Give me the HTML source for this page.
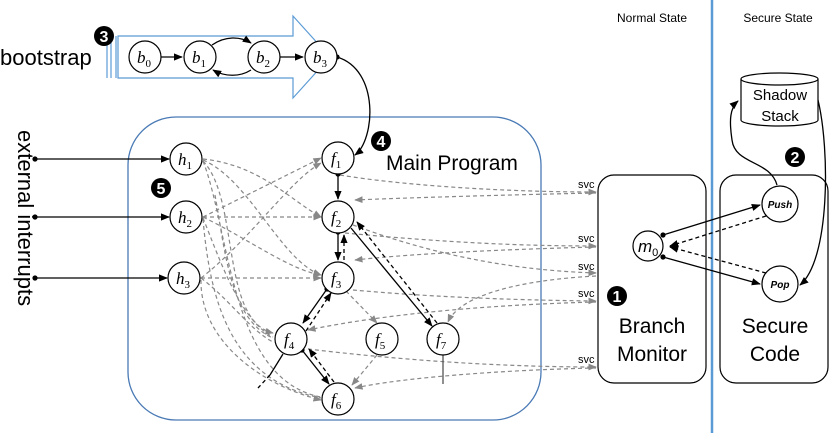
<!DOCTYPE html>
<html><head><meta charset="utf-8"><style>
body{margin:0;background:#fff}
svg{display:block;font-family:"Liberation Sans",sans-serif}
.n{fill:#fff;stroke:#000;stroke-width:1.2}
.g{fill:none;stroke:#888;stroke-width:1.2;stroke-dasharray:4 3}
.s{fill:none;stroke:#000;stroke-width:1.3}
.d{fill:none;stroke:#000;stroke-width:1.3;stroke-dasharray:4 3}
.lbl{font-family:"Liberation Serif",serif;font-style:italic;font-size:17px}
.sub{font-size:11px;font-style:normal}
</style></head><body>
<svg width="830" height="433" viewBox="0 0 830 433">
<defs>
<marker id="a" viewBox="0 0 10 10" refX="9" refY="5" markerWidth="7" markerHeight="7" orient="auto"><path d="M0,1L10,5L0,9z" fill="#000"/></marker>
<marker id="ag" viewBox="0 0 10 10" refX="9" refY="5" markerWidth="7" markerHeight="7" orient="auto"><path d="M0,1L10,5L0,9z" fill="#888"/></marker>
<marker id="o" viewBox="0 0 10 10" refX="5" refY="5" markerWidth="5" markerHeight="5"><circle cx="5" cy="5" r="4" fill="#000"/></marker>
</defs>
<line x1="712" y1="0" x2="712" y2="433" stroke="#5b9bd5" stroke-width="2.5"/>
<text x="652" y="22" font-size="12" text-anchor="middle">Normal State</text>
<text x="778" y="22" font-size="12" text-anchor="middle">Secure State</text>
<path d="M118,36H293V16L330,57L293,98V78H118z" fill="none" stroke="#5b9bd5" stroke-width="1.2"/>
<line x1="107" y1="36" x2="107" y2="78" stroke="#5b9bd5" stroke-width="1.2"/>
<line x1="111" y1="36" x2="111" y2="78" stroke="#5b9bd5" stroke-width="1.2"/>
<line x1="116" y1="36" x2="116" y2="78" stroke="#5b9bd5" stroke-width="1.2"/>
<text x="0" y="65" font-size="22">bootstrap</text>
<circle cx="104" cy="36" r="10"/><text x="104" y="42" font-size="16" fill="#fff" text-anchor="middle" font-weight="bold">3</text>
<rect x="128" y="117" width="413" height="303" rx="48" fill="none" stroke="#4a7ab5" stroke-width="1.3"/>
<text x="386" y="170" font-size="21">Main Program</text>
<text transform="translate(18,130) rotate(90)" font-size="22">external interrupts</text>
<line x1="35" y1="159" x2="169" y2="159" class="s" marker-start="url(#o)" marker-end="url(#a)"/>
<line x1="35" y1="217" x2="169" y2="217" class="s" marker-start="url(#o)" marker-end="url(#a)"/>
<line x1="35" y1="278" x2="167" y2="278" class="s" marker-start="url(#o)" marker-end="url(#a)"/>
<g class="g">
<path d="M203,159C260,165 290,200 321,217" marker-end="url(#ag)"/>
<path d="M203,160C250,180 280,260 321,275" marker-end="url(#ag)"/>
<path d="M203,161C240,200 220,320 273,333" marker-end="url(#ag)"/>
<path d="M203,161C230,230 230,380 321,397"/>
<path d="M203,217L321,158" marker-end="url(#ag)"/>
<path d="M203,217L321,217" marker-end="url(#ag)"/>
<path d="M203,217C250,240 290,270 321,275" marker-end="url(#ag)"/>
<path d="M203,218C220,260 240,320 273,337"/>
<path d="M203,219C210,300 230,380 321,398"/>
<path d="M201,278C250,240 290,180 321,163" marker-end="url(#ag)"/>
<path d="M201,278L321,278" marker-end="url(#ag)"/>
<path d="M201,278C230,300 250,330 273,342"/>
<path d="M201,280C200,340 260,385 321,400" marker-end="url(#ag)"/>
<path d="M215,195C225,250 230,320 273,338"/>
<path d="M340,175C400,185 500,192 596,192" marker-end="url(#ag)"/>
<path d="M596,193C500,195 400,198 355,200" marker-end="url(#ag)"/>
<path d="M345,233C420,240 500,246 596,246" marker-end="url(#ag)"/>
<path d="M596,247C480,250 400,255 355,260" marker-end="url(#ag)"/>
<path d="M353,225C420,250 500,270 596,273" marker-end="url(#ag)"/>
<path d="M596,276C520,280 460,295 448,322" marker-end="url(#ag)"/>
<path d="M353,290C420,296 500,300 596,301" marker-end="url(#ag)"/>
<path d="M596,302C480,305 380,315 308,330" marker-end="url(#ag)"/>
<path d="M308,349C400,360 500,367 596,367" marker-end="url(#ag)"/>
<path d="M596,368C500,370 400,378 355,388" marker-end="url(#ag)"/>
<path d="M346,291L377,323" marker-end="url(#ag)"/>
<path d="M377,355L352,385" marker-end="url(#ag)"/>
</g>
<g font-size="11">
<text x="578" y="188">svc</text>
<text x="578" y="242">svc</text>
<text x="578" y="270">svc</text>
<text x="578" y="297">svc</text>
<text x="578" y="363">svc</text>
</g>
<path class="s" d="M145,57H182" marker-start="url(#o)" marker-end="url(#a)"/>
<path class="s" d="M212,45C225,36 240,36 251,43" marker-end="url(#a)"/>
<path class="s" d="M251,70C240,77 225,77 213,70" marker-end="url(#a)"/>
<path class="s" d="M277,57H303" marker-start="url(#o)" marker-end="url(#a)"/>
<path class="s" d="M337,57C380,70 375,140 355,155" marker-start="url(#o)" marker-end="url(#a)"/>
<path class="s" d="M338,174V199" marker-start="url(#o)" marker-end="url(#a)"/>
<path class="s" d="M338,232V260" marker-start="url(#o)" marker-end="url(#a)"/>
<path class="d" d="M344,260V235" marker-end="url(#a)"/>
<path class="s" d="M351,228L432,326" marker-end="url(#a)"/>
<path class="d" d="M437,323L357,222" marker-end="url(#a)"/>
<path class="s" d="M327,289L303,323" marker-start="url(#o)" marker-end="url(#a)"/>
<path class="d" d="M306,331L331,293" marker-end="url(#a)"/>
<path class="s" d="M302,350L329,384" marker-start="url(#o)" marker-end="url(#a)"/>
<path class="d" d="M334,382L309,349" marker-end="url(#a)"/>
<path class="s" d="M283,354L270,375"/>
<path class="d" d="M270,375L258,388"/>
<path d="M443,355V384" stroke="#555" stroke-width="1.3"/>
<g class="lbl">
<circle class="n" cx="145" cy="57" r="16"/><text x="137" y="63">b<tspan class="sub" dy="4">0</tspan></text>
<circle class="n" cx="200" cy="57" r="16"/><text x="192" y="63">b<tspan class="sub" dy="4">1</tspan></text>
<circle class="n" cx="264" cy="57" r="16"/><text x="256" y="63">b<tspan class="sub" dy="4">2</tspan></text>
<circle class="n" cx="321" cy="57" r="16"/><text x="313" y="63">b<tspan class="sub" dy="4">3</tspan></text>
<circle class="n" cx="186" cy="159" r="16"/><text x="178" y="165">h<tspan class="sub" dy="4">1</tspan></text>
<circle class="n" cx="186" cy="217" r="16"/><text x="178" y="223">h<tspan class="sub" dy="4">2</tspan></text>
<circle class="n" cx="184" cy="278" r="16"/><text x="176" y="284">h<tspan class="sub" dy="4">3</tspan></text>
<circle class="n" cx="338" cy="158" r="16"/><text x="331" y="164">f<tspan class="sub" dy="4">1</tspan></text>
<circle class="n" cx="338" cy="217" r="16"/><text x="331" y="223">f<tspan class="sub" dy="4">2</tspan></text>
<circle class="n" cx="338" cy="278" r="16"/><text x="331" y="284">f<tspan class="sub" dy="4">3</tspan></text>
<circle class="n" cx="291" cy="339" r="16"/><text x="284" y="345">f<tspan class="sub" dy="4">4</tspan></text>
<circle class="n" cx="382" cy="339" r="16"/><text x="375" y="345">f<tspan class="sub" dy="4">5</tspan></text>
<circle class="n" cx="338" cy="399" r="16"/><text x="331" y="405">f<tspan class="sub" dy="4">6</tspan></text>
<circle class="n" cx="443" cy="339" r="16"/><text x="436" y="345">f<tspan class="sub" dy="4">7</tspan></text>
</g>
<g font-size="16" font-weight="bold" text-anchor="middle">
<circle cx="381" cy="141" r="10"/><text x="381" y="147" fill="#fff">4</text>
<circle cx="161" cy="188" r="10"/><text x="161" y="194" fill="#fff">5</text>
<circle cx="617" cy="296" r="10"/><text x="617" y="302" fill="#fff">1</text>
<circle cx="795" cy="157" r="10"/><text x="795" y="163" fill="#fff">2</text>
</g>
<rect x="598" y="175" width="108" height="208" rx="16" fill="none" stroke="#000" stroke-width="1.2"/>
<text x="652" y="333" font-size="21" text-anchor="middle">Branch</text>
<text x="652" y="361" font-size="21" text-anchor="middle">Monitor</text>
<rect x="720" y="175" width="108" height="208" rx="16" fill="none" stroke="#000" stroke-width="1.2"/>
<text x="775" y="333" font-size="21" text-anchor="middle">Secure</text>
<text x="775" y="361" font-size="21" text-anchor="middle">Code</text>
<path d="M741,79V120A38.5,6 0 0 0 818,120V79" fill="#fff" stroke="#000" stroke-width="1.2"/>
<ellipse cx="779.5" cy="79" rx="38.5" ry="6" fill="#fff" stroke="#000" stroke-width="1.2"/>
<text x="780" y="100" font-size="15" text-anchor="middle">Shadow</text>
<text x="780" y="121" font-size="15" text-anchor="middle">Stack</text>
<path class="s" d="M777,185C770,160 735,165 732,140C729,120 730,108 738,101" marker-end="url(#a)"/>
<path class="s" d="M818,100C830,150 830,260 800,285" marker-end="url(#a)"/>
<circle class="n" cx="648" cy="246" r="15"/>
<text x="638" y="252" font-size="17" font-style="italic">m<tspan font-size="11" dy="4" font-style="normal">0</tspan></text>
<circle class="n" cx="780" cy="204" r="18"/><text x="780" y="208" font-size="10" font-weight="bold" font-style="italic" text-anchor="middle">Push</text>
<circle class="n" cx="780" cy="284" r="18"/><text x="780" y="288" font-size="10" font-weight="bold" font-style="italic" text-anchor="middle">Pop</text>
<path class="s" d="M663,235L760,205" marker-start="url(#o)" marker-end="url(#a)"/>
<path class="d" d="M766,216L670,246" marker-end="url(#a)"/>
<path class="d" d="M766,273L670,247" marker-end="url(#a)"/>
<path class="s" d="M663,257L760,284" marker-start="url(#o)" marker-end="url(#a)"/>
</svg>
</body></html>
